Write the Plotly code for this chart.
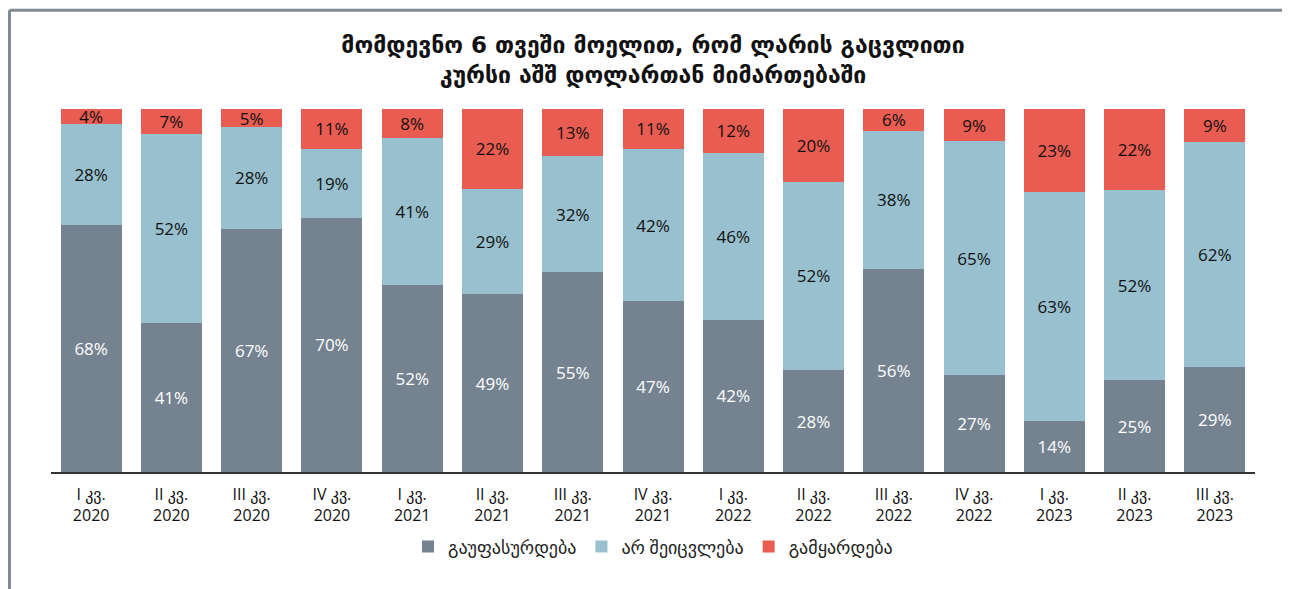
import plotly.graph_objects as go

# quarters
quarters = ['I კვ.<br>2020', 'II კვ.<br>2020', 'III კვ.<br>2020', 'IV კვ.<br>2020',
            'I კვ.<br>2021', 'II კვ.<br>2021', 'III კვ.<br>2021', 'IV კვ.<br>2021',
            'I კვ.<br>2022', 'II კვ.<br>2022', 'III კვ.<br>2022', 'IV კვ.<br>2022',
            'I კვ.<br>2023', 'II კვ.<br>2023', 'III კვ.<br>2023']

depreciate = [68, 41, 67, 70, 52, 49, 55, 47, 42, 28, 56, 27, 14, 25, 29]
no_change = [28, 52, 28, 19, 41, 29, 32, 42, 46, 52, 38, 65, 63, 52, 62]
appreciate = [4, 7, 5, 11, 8, 22, 13, 11, 12, 20, 6, 9, 23, 22, 9]

series = [
    ('გაუფასურდება', depreciate, '#758390', 'white'),
    ('არ შეიცვლება', no_change, '#98c0ce', '#111111'),
    ('გამყარდება', appreciate, '#e85c51', '#111111'),
]

base_font = 'Open Sans, DejaVu Sans, sans-serif'

fig = go.Figure()
for name, vals, color, txt in series:
    fig.add_trace(go.Bar(
        x=quarters,
        y=vals,
        name=name,
        marker=dict(color=color, line=dict(width=0)),
        text=[f'{v}%' for v in vals],
        textposition='inside',
        insidetextanchor='middle',
        textangle=0,
        constraintext='none',
        textfont=dict(color=txt, size=17, family=base_font),
        hoverinfo='skip',
    ))

# outer frame (left and top edges)
fig.add_shape(type='line', xref='paper', yref='paper',
              x0=-0.0345, x1=-0.0345, y0=-0.36, y1=1.272,
              line=dict(color='#7f8a94', width=3))
fig.add_shape(type='line', xref='paper', yref='paper',
              x0=-0.0345, x1=1.05, y0=1.272, y1=1.272,
              line=dict(color='#7f8a94', width=3))

fig.update_layout(
    barmode='stack',
    barnorm='percent',
    bargap=0.24,
    width=1290,
    height=589,
    margin=dict(l=43, r=43, t=100.5, b=125),
    paper_bgcolor='white',
    plot_bgcolor='white',
    title=dict(
        text='<b>მომდევნო 6 თვეში მოელით, რომ ლარის გაცვლითი<br>კურსი აშშ დოლართან მიმართებაში</b>',
        x=0.5, xanchor='center',
        y=0.924, yanchor='middle',
        font=dict(size=23, color='#111111', family='DejaVu Sans'),
    ),
    xaxis=dict(
        showline=True, linecolor='#333333', linewidth=1.5,
        ticks='', showgrid=False, ticklabelstandoff=7,
        tickfont=dict(size=16, color='#111111', family=base_font),
    ),
    yaxis=dict(
        range=[0, 100], visible=False, showgrid=False,
    ),
    legend=dict(
        orientation='h', x=0.5, xanchor='center',
        y=-0.2063, yanchor='middle',
        font=dict(size=18, color='#222222', family=base_font),
        traceorder='normal', itemsizing='constant',
    ),
    showlegend=True,
)

fig.write_html('out.html')
